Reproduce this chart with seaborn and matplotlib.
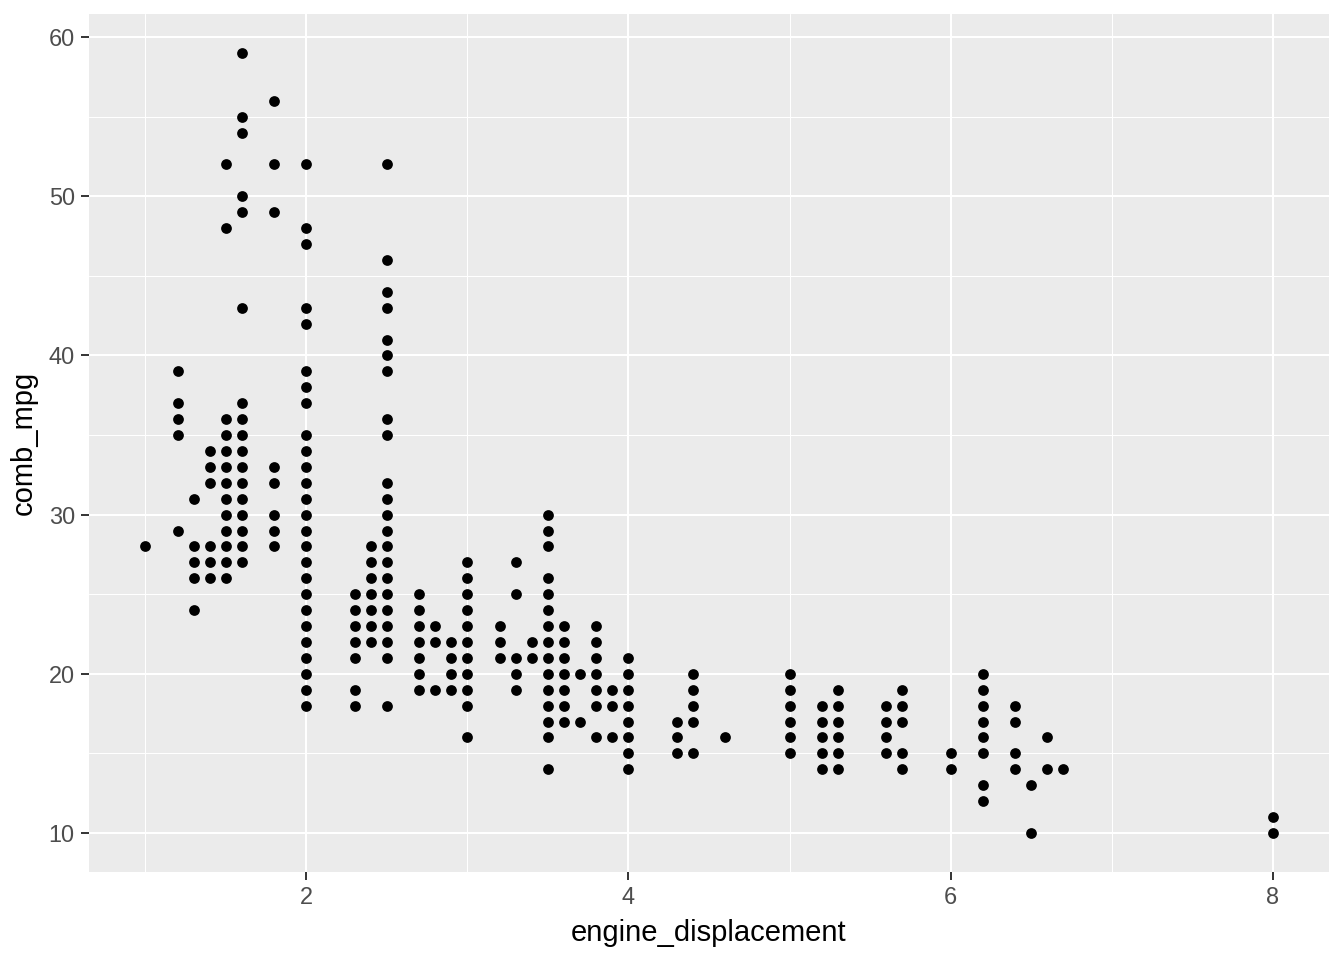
import matplotlib
matplotlib.use("Agg")
import matplotlib.pyplot as plt
import seaborn as sns
import pandas as pd
from matplotlib.ticker import MultipleLocator

# Displacement levels and the comb_mpg values observed at each level
disp_levels = [1.0, 1.2, 1.3, 1.4, 1.5, 1.6, 1.8, 2.0, 2.3, 2.4, 2.5, 2.7, 2.8, 2.9,
               3.0, 3.2, 3.3, 3.4, 3.5, 3.6, 3.7, 3.8, 3.9, 4.0, 4.3, 4.4, 4.6,
               5.0, 5.2, 5.3, 5.6, 5.7, 6.0, 6.2, 6.4, 6.5, 6.6, 6.7, 8.0]

mpg_1_0 = [28]
mpg_1_2 = [39, 37, 36, 35, 29]
mpg_1_3 = [31, 28, 27, 26, 24]
mpg_1_4 = [34, 33, 32, 28, 27, 26]
mpg_1_5 = [52, 48, 36, 35, 34, 33, 32, 31, 30, 29, 28, 27, 26]
mpg_1_6 = [59, 55, 54, 50, 49, 43, 37, 36, 35, 34, 33, 32, 31, 30, 29, 28, 27]
mpg_1_8 = [56, 52, 49, 33, 32, 30, 29, 28]
mpg_2_0 = [52, 48, 47, 43, 42, 39, 38, 37, 35, 34, 33, 32, 31, 30, 29, 28, 27,
           26, 25, 24, 23, 22, 21, 20, 19, 18]
mpg_2_3 = [25, 24, 23, 22, 21, 19, 18]
mpg_2_4 = [28, 27, 26, 25, 24, 23, 22]
mpg_2_5 = [52, 46, 44, 43, 41, 40, 39, 36, 35, 32, 31, 30, 29, 28, 27, 26, 25,
           24, 23, 22, 21, 18]
mpg_2_7 = [25, 24, 23, 22, 21, 20, 19]
mpg_2_8 = [23, 22, 19]
mpg_2_9 = [22, 21, 20, 19]
mpg_3_0 = [27, 26, 25, 24, 23, 22, 21, 20, 19, 18, 16]
mpg_3_2 = [23, 22, 21]
mpg_3_3 = [27, 25, 21, 20, 19]
mpg_3_4 = [22, 21]
mpg_3_5 = [30, 29, 28, 26, 25, 24, 23, 22, 21, 20, 19, 18, 17, 16, 14]
mpg_3_6 = [23, 22, 21, 20, 19, 18, 17]
mpg_3_7 = [20, 17]
mpg_3_8 = [23, 22, 21, 20, 19, 18, 16]
mpg_3_9 = [19, 18, 16]
mpg_4_0 = [21, 20, 19, 18, 17, 16, 15, 14]
mpg_4_3 = [17, 16, 15]
mpg_4_4 = [20, 19, 18, 17, 15]
mpg_4_6 = [16]
mpg_5_0 = [20, 19, 18, 17, 16, 15]
mpg_5_2 = [18, 17, 16, 15, 14]
mpg_5_3 = [19, 18, 17, 16, 15, 14]
mpg_5_6 = [18, 17, 16, 15]
mpg_5_7 = [19, 18, 17, 15, 14]
mpg_6_0 = [15, 14]
mpg_6_2 = [20, 19, 18, 17, 16, 15, 13, 12]
mpg_6_4 = [18, 17, 15, 14]
mpg_6_5 = [13, 10]
mpg_6_6 = [16, 14]
mpg_6_7 = [14]
mpg_8_0 = [11, 10]

mpg_groups = [mpg_1_0, mpg_1_2, mpg_1_3, mpg_1_4, mpg_1_5, mpg_1_6, mpg_1_8,
              mpg_2_0, mpg_2_3, mpg_2_4, mpg_2_5, mpg_2_7, mpg_2_8, mpg_2_9,
              mpg_3_0, mpg_3_2, mpg_3_3, mpg_3_4, mpg_3_5, mpg_3_6, mpg_3_7,
              mpg_3_8, mpg_3_9, mpg_4_0, mpg_4_3, mpg_4_4, mpg_4_6,
              mpg_5_0, mpg_5_2, mpg_5_3, mpg_5_6, mpg_5_7, mpg_6_0, mpg_6_2,
              mpg_6_4, mpg_6_5, mpg_6_6, mpg_6_7, mpg_8_0]

x_ticks = [2, 4, 6, 8]
y_ticks = [10, 20, 30, 40, 50, 60]

rows = []
for d, vals in zip(disp_levels, mpg_groups):
    for v in vals:
        rows.append((d, v))
df = pd.DataFrame(rows, columns=["engine_displacement", "comb_mpg"])

sns.set_theme(style="white")
plt.rcParams["font.family"] = ["Liberation Sans", "DejaVu Sans"]

fig = plt.figure(figsize=(13.44, 9.6), dpi=100)
ax = fig.add_axes([89 / 1344, 1 - 872 / 960, (1329 - 89) / 1344, (872 - 14) / 960])
ax.set_facecolor("#EBEBEB")

sns.scatterplot(data=df, x="engine_displacement", y="comb_mpg", ax=ax,
                color="black", s=60, linewidth=0, zorder=3)

ax.set_xlim(0.65, 8.35)
ax.set_ylim(7.55, 61.45)
ax.set_xticks(x_ticks)
ax.set_yticks(y_ticks)
ax.set_xticklabels([str(t) for t in x_ticks])
ax.set_yticklabels([str(t) for t in y_ticks])
ax.xaxis.set_minor_locator(MultipleLocator(1))
ax.yaxis.set_minor_locator(MultipleLocator(5))

ax.grid(which="major", color="white", linewidth=1.45, zorder=0)
ax.grid(which="minor", color="white", linewidth=0.75, zorder=0)
ax.set_axisbelow(True)
for sp in ax.spines.values():
    sp.set_visible(False)

ax.tick_params(axis="both", which="major", length=5.8, width=1.4, color="#333333",
               labelsize=16.9, labelcolor="#4D4D4D", pad=4.5,
               bottom=True, left=True)
ax.tick_params(axis="both", which="minor", length=0, bottom=False, left=False)

ax.set_xlabel("engine_displacement", fontsize=21, color="black", labelpad=7)
ax.set_ylabel("comb_mpg", fontsize=21, color="black", labelpad=8)

fig.savefig("out.png", dpi=100)
